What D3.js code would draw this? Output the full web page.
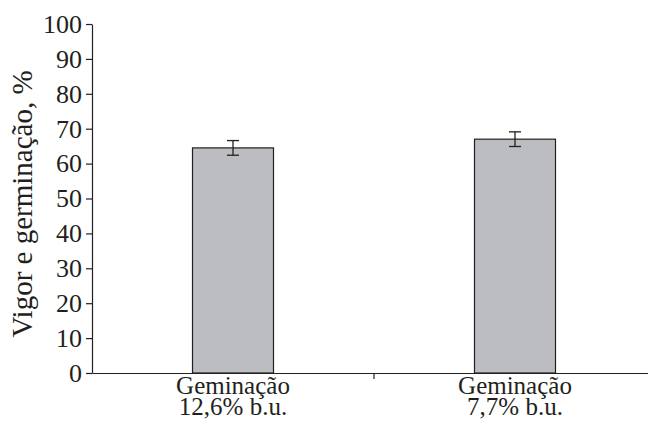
<!DOCTYPE html>
<html>
<head>
<meta charset="utf-8">
<script src="https://cdn.jsdelivr.net/npm/d3@7"></script>
<style>
  body { margin: 0; background: #fff; }
  text { font-family: "Liberation Serif", "Times New Roman", serif; fill: #231f20; }
</style>
</head>
<body>
<div id="chart"></div>
<script>
const categories = ["Geminação\n12,6% b.u.", "Geminação\n7,7% b.u."]
const values = [64.5, 67.0]
const errors = [2.1, 2.1]
const yTicks = [0, 10, 20, 30, 40, 50, 60, 70, 80, 90, 100]

const W = 648, H = 434
const margin = {top: 24, right: -8, bottom: 61, left: 92}
const width = W - margin.left - margin.right,
    height = H - margin.top - margin.bottom

const svg = d3.select("#chart").append("svg")
    .attr("width", W).attr("height", H)
const g = svg.append("g").attr("transform", "translate(" + margin.left + "," + margin.top + ")")

const x = d3.scaleBand().domain(categories).range([0, width]).paddingInner(0).paddingOuter(0)
const y = d3.scaleLinear().domain([0, 100]).range([height, 0])
const barW = 81

// bars
g.selectAll("rect.bar").data(values).join("rect")
    .attr("class", "bar")
    .attr("x", (d, i) => x(categories[i]) + x.bandwidth() / 2 - barW / 2)
    .attr("width", barW)
    .attr("y", d => y(d))
    .attr("height", d => height - y(d))
    .attr("fill", "#bcbdc1")
    .attr("stroke", "#231f20")
    .attr("stroke-width", 1.2)

// error bars
const eb = g.selectAll("g.err").data(values).join("g").attr("class", "err")
    .attr("transform", (d, i) => "translate(" + (x(categories[i]) + x.bandwidth() / 2) + ",0)")
eb.append("line").attr("x1", 0).attr("x2", 0)
    .attr("y1", (d, i) => y(d - errors[i])).attr("y2", (d, i) => y(d + errors[i]))
    .attr("stroke", "#231f20").attr("stroke-width", 1.3)
eb.selectAll("line.cap").data((d, i) => [d - errors[i], d + errors[i]]).join("line")
    .attr("class", "cap")
    .attr("x1", -6).attr("x2", 6)
    .attr("y1", d => y(d)).attr("y2", d => y(d))
    .attr("stroke", "#231f20").attr("stroke-width", 1.3)

// y axis
const yAxis = g.append("g").call(d3.axisLeft(y).tickValues(yTicks).tickSize(6).tickPadding(4).tickSizeOuter(0))
yAxis.select(".domain").attr("stroke", "#231f20").attr("stroke-width", 1.2)
yAxis.selectAll(".tick line").attr("stroke", "#231f20").attr("stroke-width", 1.2)
yAxis.selectAll(".tick text").attr("font-size", "26px")
    .attr("font-family", "Liberation Serif").attr("fill", "#231f20")

// x axis
const xAxis = g.append("g").attr("transform", "translate(0," + height + ")")
    .call(d3.axisBottom(x).tickSize(0).tickSizeOuter(0).tickFormat(""))
xAxis.select(".domain").attr("stroke", "#231f20").attr("stroke-width", 1.2)
// tick between categories
xAxis.append("line").attr("x1", x(categories[1])).attr("x2", x(categories[1]))
    .attr("y1", 0).attr("y2", 6).attr("stroke", "#231f20").attr("stroke-width", 1.2)

xAxis.selectAll(".tick").each(function (d) {
    const t = d3.select(this).select("text").text(null)
        .attr("font-size", "25px").attr("font-family", "Liberation Serif")
        .attr("fill", "#231f20").attr("text-anchor", "middle").attr("y", 0).attr("dy", null)
    d.split("\n").forEach((s, k) => {
        t.append("tspan").attr("x", 0).attr("y", 21 + k * 21).text(s)
    })
})

// y label
svg.append("text")
    .attr("transform", "translate(32," + (margin.top + 180) + ") rotate(-90)")
    .attr("text-anchor", "middle")
    .attr("font-size", "29px")
    .text("Vigor e germinação, %")
</script>
</body>
</html>
